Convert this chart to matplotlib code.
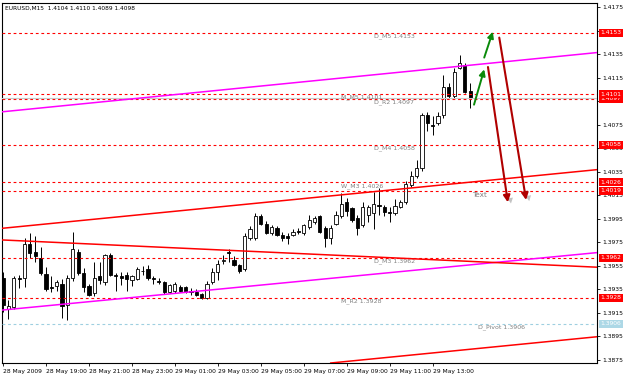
import numpy as np
import matplotlib
matplotlib.use("Agg")
import matplotlib.pyplot as plt
import matplotlib.patheffects as pe
from matplotlib.transforms import blended_transform_factory

# EURUSD M15 candles, 28 May 2009 17:00 .. 29 May 2009 14:45
opens = [1.3945, 1.3918, 1.3920, 1.3945, 1.3945, 1.3974, 1.3967, 1.3962, 1.3948, 1.3937,
         1.3938, 1.3940, 1.3922, 1.3945, 1.3967, 1.3949, 1.3938, 1.3932, 1.3946, 1.3941,
         1.3964, 1.3947, 1.3946, 1.3947, 1.3943, 1.3944, 1.3951, 1.3952, 1.3945, 1.3942,
         1.3941, 1.3933, 1.3934, 1.3937, 1.3937, 1.3934, 1.3933, 1.3931, 1.3928, 1.3941,
         1.3950, 1.3959, 1.3967, 1.3960, 1.3956, 1.3952, 1.3979, 1.3979, 1.3997, 1.3991,
         1.3983, 1.3987, 1.3981, 1.3980, 1.3981, 1.3985, 1.3983, 1.3988, 1.3992, 1.3997,
         1.3987, 1.3979, 1.3991, 1.3997, 1.4009, 1.4004, 1.3996, 1.3990, 1.3998, 1.4000,
         1.4007, 1.4005, 1.4001, 1.4000, 1.4005, 1.4009, 1.4024, 1.4031, 1.4038, 1.4083,
         1.4075, 1.4076, 1.4083, 1.4107, 1.4099, 1.4123, 1.4126, 1.4104]
highs = [1.3950, 1.3926, 1.3946, 1.3947, 1.3979, 1.3983, 1.3980, 1.3971, 1.3954, 1.3946,
         1.3943, 1.3944, 1.3947, 1.3984, 1.3969, 1.3953, 1.3940, 1.3958, 1.3958, 1.3965,
         1.3966, 1.3949, 1.3950, 1.3950, 1.3947, 1.3954, 1.3955, 1.3956, 1.3946, 1.3945,
         1.3942, 1.3940, 1.3941, 1.3939, 1.3938, 1.3936, 1.3935, 1.3932, 1.3942, 1.3953,
         1.3960, 1.3964, 1.3969, 1.3963, 1.3957, 1.3983, 1.3989, 1.4000, 1.3999, 1.3993,
         1.3990, 1.3989, 1.3984, 1.3983, 1.3986, 1.3987, 1.3991, 1.3998, 1.3997, 1.3998,
         1.3989, 1.3990, 1.4002, 1.4017, 1.4013, 1.4005, 1.3998, 1.4009, 1.4007, 1.4018,
         1.4021, 1.4007, 1.4005, 1.4012, 1.4011, 1.4027, 1.4036, 1.4045, 1.4085, 1.4086,
         1.4082, 1.4086, 1.4117, 1.4110, 1.4123, 1.4134, 1.4127, 1.4110]
lows = [1.3916, 1.3910, 1.3918, 1.3936, 1.3937, 1.3962, 1.3958, 1.3947, 1.3934, 1.3933,
        1.3934, 1.3911, 1.3909, 1.3942, 1.3947, 1.3933, 1.3929, 1.3929, 1.3940, 1.3939,
        1.3946, 1.3934, 1.3939, 1.3934, 1.3938, 1.3943, 1.3947, 1.3943, 1.3940, 1.3940,
        1.3931, 1.3932, 1.3932, 1.3933, 1.3932, 1.3930, 1.3929, 1.3927, 1.3927, 1.3940,
        1.3943, 1.3957, 1.3958, 1.3955, 1.3949, 1.3951, 1.3977, 1.3977, 1.3990, 1.3982,
        1.3981, 1.3980, 1.3976, 1.3974, 1.3980, 1.3982, 1.3981, 1.3986, 1.3991, 1.3983,
        1.3971, 1.3974, 1.3990, 1.3996, 1.3997, 1.3992, 1.3981, 1.3988, 1.3992, 1.3986,
        1.3998, 1.3997, 1.3992, 1.3998, 1.4004, 1.4008, 1.4022, 1.4030, 1.4036, 1.4070,
        1.4066, 1.4075, 1.4081, 1.4098, 1.4098, 1.4122, 1.4102, 1.4089]
closes = [1.3922, 1.3921, 1.3945, 1.3944, 1.3974, 1.3966, 1.3963, 1.3949, 1.3935, 1.3936,
          1.3941, 1.3921, 1.3945, 1.3969, 1.3949, 1.3937, 1.3930, 1.3945, 1.3943, 1.3964,
          1.3947, 1.3946, 1.3945, 1.3944, 1.3946, 1.3952, 1.3951, 1.3945, 1.3944, 1.3941,
          1.3933, 1.3939, 1.3940, 1.3934, 1.3933, 1.3933, 1.3930, 1.3928, 1.3940, 1.3950,
          1.3957, 1.3960, 1.3966, 1.3956, 1.3951, 1.3980, 1.3986, 1.3997, 1.3991, 1.3983,
          1.3988, 1.3981, 1.3979, 1.3979, 1.3984, 1.3984, 1.3990, 1.3994, 1.3996, 1.3984,
          1.3979, 1.3987, 1.3998, 1.4008, 1.4002, 1.3994, 1.3987, 1.4005, 1.4005, 1.4008,
          1.4006, 1.4001, 1.4000, 1.4006, 1.4009, 1.4025, 1.4031, 1.4038, 1.4083, 1.4076,
          1.4074, 1.4082, 1.4107, 1.4099, 1.4120, 1.4127, 1.4103, 1.4098]

bid = 1.4098
time_labels = ["28 May 2009", "28 May 19:00", "28 May 21:00", "28 May 23:00",
               "29 May 01:00", "29 May 03:00", "29 May 05:00", "29 May 07:00",
               "29 May 09:00", "29 May 11:00", "29 May 13:00"]
bars_per_label = 8

# horizontal pivot levels
level_prices = [1.4153, 1.4097, 1.4101, 1.4058, 1.4026, 1.4019, 1.3962, 1.3928]
level_names = ["D_M5", "D_R2", "M_M5", "D_M4", "W_M3", "", "D_M3", "M_R2"]
pivot_price = 1.3906
pivot_name = "D_Pivot"

# trend lines: (bar, price, bar, price)
magenta_lines = [(0, 1.4086, 110, 1.4136), (0, 1.39175, 110, 1.3966)]
red_lines = [(0, 1.3987, 110, 1.40365), (0, 1.3977, 110, 1.3954), (60, 1.3872, 110, 1.38945)]

# drawn arrows: (bar, price) start -> end
green_arrows = [((87.7, 1.4092), (89.6, 1.4122)), ((89.6, 1.4132), (91.2, 1.4154))]
red_arrows = [((90.3, 1.4124), (94.0, 1.4009)), ((92.4, 1.4149), (97.4, 1.4011))]

fig = plt.figure(figsize=(6.25, 3.77), dpi=100)
ax = fig.add_axes([2 / 625, 1 - 363 / 377, 595 / 625, 360 / 377])
ax.set_xlim(-0.19, 110.6)
ax.set_ylim(1.387246, 1.41784)

# candles
x = np.arange(len(opens))
o = np.array(opens)
c = np.array(closes)
ax.vlines(x, lows, highs, color="black", lw=0.7, zorder=2)
up = c >= o
ax.bar(x, np.abs(c - o), bottom=np.minimum(o, c), width=0.6,
       color=np.where(up, "white", "black"), edgecolor="black", lw=0.6, zorder=3)

# levels
lvl_style = dict(color="#ff0000", lw=0.8, ls=(0, (2.5, 2.5)), zorder=4)
for p in level_prices:
    ax.axhline(p, **lvl_style)
ax.axhline(pivot_price, color="#9ecfe0", lw=0.8, ls=(0, (2.5, 2.5)), zorder=4)
ax.axhline(bid, color="#c8c8c8", lw=0.8, zorder=4)

for p, name in zip(level_prices, level_names):
    if not name:
        continue
    lx = 69 if name.startswith("D_") else 63
    ax.text(lx, p - 0.00005, f"{name} {p:.4f}", fontsize=4.5, color="#808080",
            ha="left", va="top", zorder=5)
ax.text(88.5, pivot_price - 0.00005, f"{pivot_name} {pivot_price:.4f}", fontsize=4.5,
        color="#808080", ha="left", va="top", zorder=5)

for x0, p0, x1, p1 in magenta_lines:
    ax.axline((x0, p0), (x1, p1), color="#ff00ff", lw=1.1, zorder=5)
for x0, p0, x1, p1 in red_lines:
    ax.axline((x0, p0), (x1, p1), color="#ff0000", lw=1.1, zorder=5)

for start, end in green_arrows:
    ax.annotate("", xy=end, xytext=start, zorder=6,
                arrowprops=dict(arrowstyle="-|>", color="#0a8a0a", lw=1.4,
                                mutation_scale=9, shrinkA=0, shrinkB=0))
for start, end in red_arrows:
    ax.annotate("", xy=end, xytext=start, zorder=6,
                arrowprops=dict(arrowstyle="-|>", color="#b00000", lw=1.5,
                                mutation_scale=10, shrinkA=0, shrinkB=0,
                                path_effects=[pe.SimplePatchShadow(offset=(2.5, -2.5),
                                                                   shadow_rgbFace="#9a9a9a",
                                                                   alpha=0.6),
                                              pe.Normal()]))

ax.text(87.3, 1.4015, "Text", fontsize=5.3, color="#808080", ha="left", va="center", zorder=6)

ax.text(0.005, 0.992, f"EURUSD,M15  {opens[-1]:.4f} {highs[-1]:.4f} {lows[-1]:.4f} {closes[-1]:.4f}",
        transform=ax.transAxes, fontsize=4.2, ha="left", va="top")

# axes
ax.yaxis.tick_right()
yt = np.arange(1.3875, 1.4176, 0.002)
ax.set_yticks(yt)
# scale labels fully covered by the level boxes are left blank
boxed = level_prices + [pivot_price]
ax.set_yticklabels(["" if min(abs(v - b) for b in boxed) < 0.0003 and
                    min(abs(v - b) for b in boxed) < 0.00025 else f"{v:.4f}" for v in yt])
ax.tick_params(axis="y", direction="out", length=2, width=0.6, pad=1.5, labelsize=4.3)
xt = np.arange(0, len(time_labels) * bars_per_label, bars_per_label)
ax.set_xticks(xt)
ax.set_xticklabels(time_labels, ha="left")
ax.tick_params(axis="x", direction="out", length=2.5, width=0.6, pad=1.5, labelsize=4.3)
for s in ax.spines.values():
    s.set_linewidth(0.8)
    s.set_color("black")

# price boxes on the right scale
tr = blended_transform_factory(ax.transAxes, ax.transData)
for p in level_prices:
    ax.text(1.006, p, f"{p:.4f}", transform=tr, fontsize=4.3, color="white",
            ha="left", va="center", clip_on=False, zorder=10,
            bbox=dict(boxstyle="square,pad=0.25", fc="#ff0000", ec="none"))
ax.text(1.006, pivot_price, f"{pivot_price:.4f}", transform=tr, fontsize=4.3, color="white",
        ha="left", va="center", clip_on=False, zorder=10,
        bbox=dict(boxstyle="square,pad=0.25", fc="#add8e6", ec="none"))

fig.savefig("out.png", dpi=100, facecolor="white")
